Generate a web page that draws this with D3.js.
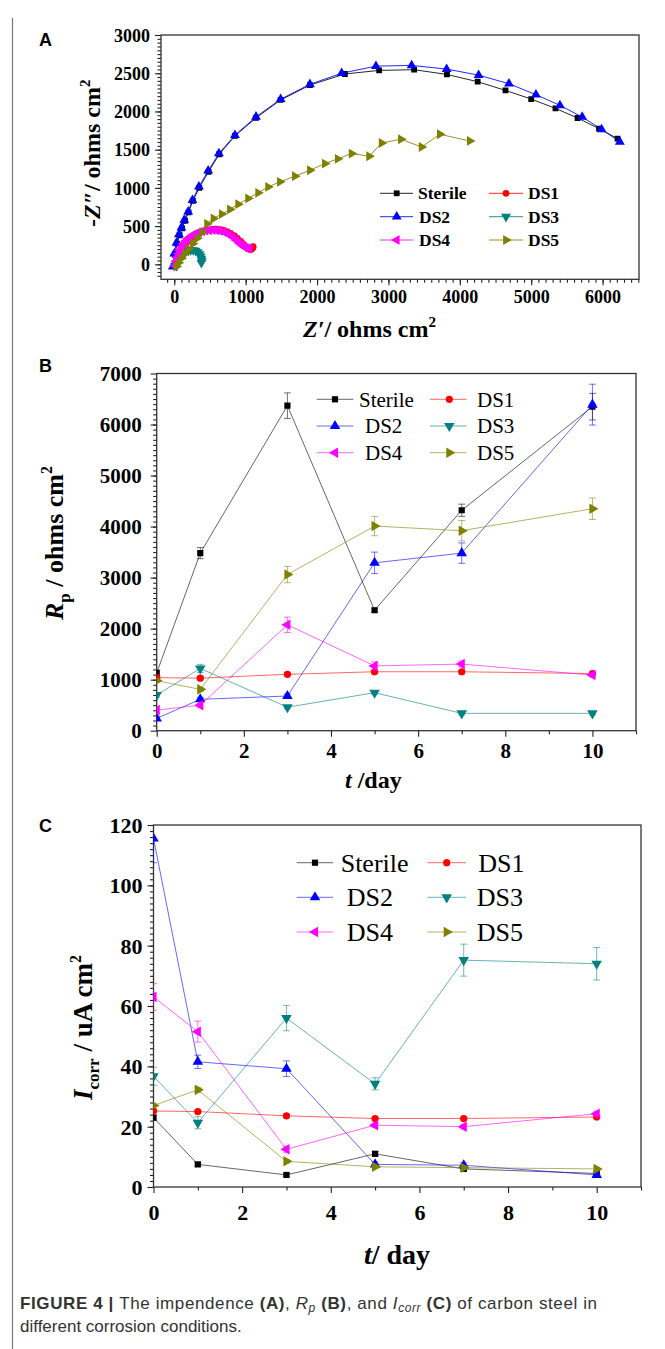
<!DOCTYPE html>
<html>
<head>
<meta charset="utf-8">
<script src="https://cdnjs.cloudflare.com/ajax/libs/d3/7.8.5/d3.min.js"></script>
<style>
  body { margin: 0; background: #fff; }
  svg text { font-family: "Liberation Serif", "Times New Roman", serif; }
</style>
</head>
<body>
<svg id="fig" width="665" height="1349"></svg>
<script>
// ---- series shared by all panels
const seriesNames = ["Sterile", "DS1", "DS2", "DS3", "DS4", "DS5"];
const seriesColors = ["#000000", "#ff0000", "#0000ff", "#008080", "#ff00ff", "#808000"];
const seriesSymbols = ["square", "circle", "up", "down", "left", "right"];

// ---- panel A: Nyquist plots (Z', -Z'')
const zReSterile = [-10, 10, 40, 75, 110, 150, 200, 260, 350, 480, 630, 850, 1145, 1490, 1900, 2390, 2870, 3360, 3820, 4250, 4640, 5000, 5340, 5650, 5950, 6210];
const zImSterile = [-20, 130, 270, 380, 470, 570, 680, 830, 1000, 1210, 1440, 1680, 1915, 2150, 2345, 2490, 2537, 2546, 2484, 2389, 2275, 2162, 2040, 1914, 1775, 1645];
const zReDS1 = [20, 35, 50, 70, 90, 115, 140, 170, 200, 235, 270, 310, 350, 395, 440, 490, 540, 590, 640, 690, 740, 790, 840, 885, 930, 965, 1000, 1030, 1060, 1085, 1100, 1105];
const zImDS1 = [-10, 40, 85, 130, 170, 210, 245, 280, 310, 340, 365, 390, 410, 428, 442, 452, 458, 460, 455, 445, 428, 405, 375, 340, 300, 265, 230, 205, 195, 200, 215, 230];
const zReDS2 = [-20, 0, 30, 65, 100, 140, 195, 255, 345, 475, 625, 850, 1145, 1490, 1900, 2345, 2825, 3325, 3815, 4263, 4688, 5066, 5402, 5714, 5986, 6242];
const zImDS2 = [-30, 140, 280, 390, 480, 580, 690, 840, 1015, 1225, 1450, 1690, 1930, 2160, 2355, 2500, 2593, 2602, 2554, 2475, 2363, 2219, 2080, 1927, 1766, 1601];
const zReDS3 = [30, 50, 75, 100, 130, 160, 195, 230, 265, 300, 330, 355, 370, 380, 385, 380];
const zImDS3 = [-20, 30, 75, 110, 140, 162, 178, 186, 186, 178, 160, 135, 105, 75, 45, 20];
const zReDS4 = [10, 25, 40, 60, 80, 105, 130, 160, 190, 225, 260, 300, 345, 390, 435, 485, 535, 585, 635, 685, 735, 780, 825, 870, 910, 950, 985, 1015, 1040, 1055];
const zImDS4 = [-20, 40, 90, 140, 185, 230, 270, 305, 335, 362, 385, 405, 420, 432, 440, 446, 448, 445, 438, 425, 405, 380, 350, 315, 280, 250, 225, 210, 205, 210];
const zReDS5 = [30, 60, 100, 150, 200, 260, 320, 390, 460, 550, 665, 780, 895, 1035, 1175, 1315, 1480, 1690, 1900, 2110, 2290, 2485, 2730, 2905, 3175, 3465, 3720, 4140];
const zImDS5 = [-30, 20, 80, 140, 200, 270, 340, 420, 530, 600, 657, 718, 787, 862, 935, 1013, 1079, 1153, 1231, 1318, 1380, 1449, 1414, 1587, 1636, 1535, 1701, 1614];

// ---- panels B and C: values against time
const days = [0, 1, 3, 5, 7, 10];

const rpSterile = [1130, 3480, 6370, 2360, 4320, 6350];
const rpDS1 = [1040, 1030, 1105, 1155, 1155, 1120];
const rpDS2 = [240, 615, 680, 3290, 3480, 6390];
const rpDS3 = [700, 1220, 460, 745, 340, 340];
const rpDS4 = [405, 500, 2075, 1270, 1305, 1090];
const rpDS5 = [980, 810, 3060, 4010, 3920, 4350];
const rpErrSterile = [60, 110, 250, 40, 120, 260];
const rpErrDS1 = [30, 30, 30, 30, 30, 30];
const rpErrDS2 = [40, 40, 40, 210, 200, 400];
const rpErrDS3 = [40, 80, 30, 30, 30, 30];
const rpErrDS4 = [50, 40, 150, 80, 60, 40];
const rpErrDS5 = [40, 40, 160, 190, 200, 210];

const icSterile = [23, 7.5, 4, 11, 6, 4.5];
const icDS1 = [25.2, 25.0, 23.6, 22.7, 22.7, 23.2];
const icDS2 = [115.5, 41.5, 39.2, 7.5, 7.2, 4.0];
const icDS3 = [36.7, 21.3, 56, 34.2, 75.2, 74];
const icDS4 = [63, 51.5, 12.5, 20.5, 20, 24.3];
const icDS5 = [27, 32.2, 8.5, 6.7, 6.4, 6.0];
const icErrSterile = [0.8, 0.6, 0.5, 0.8, 0.5, 0.5];
const icErrDS1 = [0.5, 0.5, 0.5, 0.5, 0.5, 0.5];
const icErrDS2 = [8, 2.2, 2.6, 0.8, 0.8, 0.5];
const icErrDS3 = [3, 2, 4.2, 2, 5.3, 5.4];
const icErrDS4 = [4.4, 3.5, 1, 0.8, 0.8, 0.8];
const icErrDS5 = [0.8, 0.8, 0.6, 0.5, 0.5, 0.5];

const svg = d3.select("#fig");
const SANS = '"Liberation Sans", Arial, sans-serif';

// frame round the figure
svg.append("line").attr("x1", 12.5).attr("x2", 12.5).attr("y1", 18).attr("y2", 1349)
  .attr("stroke", "#777").attr("stroke-width", 1.2);

function marker(kind, area) {
  const type = kind === "square" ? d3.symbolSquare : kind === "circle" ? d3.symbolCircle : d3.symbolTriangle;
  return d3.symbol(type, area)();
}
const markerRotation = { square: 0, circle: 0, up: 0, down: 180, left: -90, right: 90 };

function drawPanel(p) {
  const g = svg.append("g");
  const x = d3.scaleLinear().domain(p.xDomain).range([p.left, p.right]);
  const y = d3.scaleLinear().domain(p.yDomain).range([p.bottom, p.top]);
  const clipId = "clip" + p.label;
  g.append("clipPath").attr("id", clipId).append("rect")
    .attr("x", p.left).attr("y", p.top).attr("width", p.right - p.left).attr("height", p.bottom - p.top);

  // minor ticks
  g.append("g").attr("transform", `translate(0,${p.bottom})`)
    .call(d3.axisBottom(x).tickValues(p.xMinor).tickSize(p.minorLen).tickFormat(""))
    .call(a => a.select(".domain").remove());
  g.append("g").attr("transform", `translate(${p.left},0)`)
    .call(d3.axisLeft(y).tickValues(p.yMinor).tickSize(p.minorLen).tickFormat(""))
    .call(a => a.select(".domain").remove());

  // major ticks with labels
  const xa = g.append("g").attr("transform", `translate(0,${p.bottom})`)
    .call(d3.axisBottom(x).tickValues(p.xTicks).tickSize(p.majorLen).tickFormat(d3.format("d")));
  xa.select(".domain").remove();
  xa.selectAll("text").attr("dy", null).attr("y", p.xLabelOffset)
    .style("font-size", p.tickFont + "px").style("font-weight", "bold").attr("fill", "#000");
  const ya = g.append("g").attr("transform", `translate(${p.left},0)`)
    .call(d3.axisLeft(y).tickValues(p.yTicks).tickSize(p.majorLen).tickPadding(p.yPad).tickFormat(d3.format("d")));
  ya.select(".domain").remove();
  ya.selectAll("text").attr("dy", "0.34em")
    .style("font-size", p.tickFont + "px").style("font-weight", "bold").attr("fill", "#000");
  g.selectAll(".tick line").attr("stroke", "#222").attr("stroke-width", 1.1);

  // frame
  g.append("rect").attr("x", p.left).attr("y", p.top)
    .attr("width", p.right - p.left).attr("height", p.bottom - p.top)
    .attr("fill", "none").attr("stroke", "#333").attr("stroke-width", 1.3);

  // data
  const plot = g.append("g").attr("clip-path", `url(#${clipId})`);
  p.series.forEach((s, i) => {
    const col = seriesColors[i];
    const pts = s.xs.map((v, k) => [v, s.ys[k], s.err ? s.err[k] : 0]);
    plot.append("path").datum(pts)
      .attr("d", d3.line().x(d => x(d[0])).y(d => y(d[1])))
      .attr("fill", "none").attr("stroke", col).attr("stroke-width", p.lineWidth).attr("stroke-opacity", p.lineOpacity);
    if (s.err) {
      const eb = plot.append("g").attr("stroke", col).attr("stroke-opacity", 0.55).attr("stroke-width", 1);
      pts.forEach(d => {
        const cx = x(d[0]), y1 = y(d[1] - d[2]), y2 = y(d[1] + d[2]);
        eb.append("line").attr("x1", cx).attr("x2", cx).attr("y1", y1).attr("y2", y2);
        eb.append("line").attr("x1", cx - 3.5).attr("x2", cx + 3.5).attr("y1", y1).attr("y2", y1);
        eb.append("line").attr("x1", cx - 3.5).attr("x2", cx + 3.5).attr("y1", y2).attr("y2", y2);
      });
    }
    const kind = seriesSymbols[i];
    const area = kind === "square" ? p.markerArea * 0.8 : kind === "circle" ? p.markerArea * 0.85 : p.markerArea;
    plot.append("g").selectAll("path").data(pts).join("path")
      .attr("d", marker(kind, area))
      .attr("transform", d => `translate(${x(d[0])},${y(d[1])}) rotate(${markerRotation[kind]})`)
      .attr("fill", col);
  });

  // legend
  const lg = g.append("g");
  seriesNames.forEach((name, i) => {
    const col = i % 2, row = Math.floor(i / 2);
    const L = p.legend;
    const cy = L.rows[row];
    lg.append("line").attr("x1", L.lineX[col][0]).attr("x2", L.lineX[col][1]).attr("y1", cy).attr("y2", cy)
      .attr("stroke", seriesColors[i]).attr("stroke-width", p.lineWidth).attr("stroke-opacity", p.lineOpacity);
    const kind = seriesSymbols[i];
    const area = kind === "square" ? p.markerArea * 0.8 : kind === "circle" ? p.markerArea * 0.85 : p.markerArea;
    lg.append("path").attr("d", marker(kind, area))
      .attr("transform", `translate(${L.symX[col]},${cy}) rotate(${markerRotation[kind]})`)
      .attr("fill", seriesColors[i]);
    lg.append("text").attr("x", L.textX[i]).attr("y", cy).attr("dy", "0.35em")
      .style("font-size", L.font + "px").style("font-weight", L.bold ? "bold" : "normal")
      .text(name);
  });

  // panel letter
  svg.append("text").attr("x", 39).attr("y", p.letterY).text(p.label)
    .style("font-family", SANS).style("font-weight", "bold").style("font-size", "18px");
  return { x, y };
}

function seriesList(xsList, ysList, errList) {
  return xsList.map((xs, i) => ({ xs, ys: ysList[i], err: errList ? errList[i] : null }));
}

// ---- Panel A
drawPanel({
  label: "A", letterY: 46,
  left: 161, right: 639, top: 35, bottom: 279.3,
  xDomain: [-186, 6510], yDomain: [-196, 3000],
  xTicks: d3.range(0, 7000, 1000), xMinor: d3.range(-100, 6501, 100),
  yTicks: d3.range(0, 3001, 500), yMinor: d3.range(-150, 3000, 50),
  majorLen: 6, minorLen: 3.5, tickFont: 18, xLabelOffset: 24, yPad: 5,
  lineWidth: 1, lineOpacity: 0.85, markerArea: 42,
  series: seriesList(
    [zReSterile, zReDS1, zReDS2, zReDS3, zReDS4, zReDS5],
    [zImSterile, zImDS1, zImDS2, zImDS3, zImDS4, zImDS5]),
  legend: { rows: [193.3, 216.7, 240], lineX: [[380, 413], [489, 523]], symX: [396.7, 506],
            textX: [418, 528, 419, 528, 419, 528], font: 17.5, bold: true }
});
svg.append("text").attr("x", 303).attr("y", 337).style("font-size", "24px").style("font-weight", "bold")
  .call(t => {
    t.append("tspan").style("font-style", "italic").text("Z\u2032");
    t.append("tspan").text("/ ohms cm");
    t.append("tspan").attr("dy", -10).style("font-size", "15px").text("2");
  });
svg.append("text").attr("transform", "translate(100,227) rotate(-90)").style("font-size", "24px").style("font-weight", "bold")
  .call(t => {
    t.append("tspan").text("-");
    t.append("tspan").style("font-style", "italic").text("Z\u2033");
    t.append("tspan").text("/ ohms cm");
    t.append("tspan").attr("dy", -10).style("font-size", "15px").text("2");
  });

// ---- Panel B
drawPanel({
  label: "B", letterY: 372,
  left: 156.7, right: 636, top: 373.5, bottom: 730.7,
  xDomain: [0, 11], yDomain: [0, 7000],
  xTicks: d3.range(0, 11, 2), xMinor: d3.range(1, 12, 2),
  yTicks: d3.range(0, 7001, 1000), yMinor: d3.range(100, 7000, 100),
  majorLen: 6, minorLen: 3.5, tickFont: 21, xLabelOffset: 27, yPad: 9,
  lineWidth: 1, lineOpacity: 0.6, markerArea: 48,
  series: seriesList(
    [days, days, days, days, days, days],
    [rpSterile, rpDS1, rpDS2, rpDS3, rpDS4, rpDS5],
    [rpErrSterile, rpErrDS1, rpErrDS2, rpErrDS3, rpErrDS4, rpErrDS5]),
  legend: { rows: [399.3, 426, 452.7], lineX: [[316.7, 353.3], [430, 466.7]], symX: [335, 449.3],
            textX: [359, 477, 365, 477, 365, 477], font: 21, bold: false }
});
svg.append("text").attr("x", 345).attr("y", 788).style("font-size", "24px").style("font-weight", "bold")
  .call(t => {
    t.append("tspan").style("font-style", "italic").text("t");
    t.append("tspan").text(" /day");
  });
svg.append("text").attr("transform", "translate(63,620) rotate(-90)").style("font-size", "26px").style("font-weight", "bold")
  .call(t => {
    t.append("tspan").style("font-style", "italic").text("R");
    t.append("tspan").attr("dy", 7).style("font-size", "17px").text("p");
    t.append("tspan").attr("dy", -7).text(" / ohms cm");
    t.append("tspan").attr("dy", -11).style("font-size", "16px").text("2");
  });

// ---- Panel C
drawPanel({
  label: "C", letterY: 832,
  left: 153.5, right: 641, top: 825, bottom: 1187,
  xDomain: [0, 11], yDomain: [0, 120],
  xTicks: d3.range(0, 11, 2), xMinor: d3.range(1, 12, 2),
  yTicks: d3.range(0, 121, 20), yMinor: d3.range(2, 120, 2),
  majorLen: 6, minorLen: 3.5, tickFont: 22, xLabelOffset: 33, yPad: 5,
  lineWidth: 1, lineOpacity: 0.6, markerArea: 48,
  series: seriesList(
    [days, days, days, days, days, days],
    [icSterile, icDS1, icDS2, icDS3, icDS4, icDS5],
    [icErrSterile, icErrDS1, icErrDS2, icErrDS3, icErrDS4, icErrDS5]),
  legend: { rows: [862.7, 897.3, 932], lineX: [[296.7, 333], [427.3, 466]], symX: [315, 446.7],
            textX: [340.7, 478.3, 346.7, 476.7, 346.7, 476.7], font: 26, bold: false }
});
svg.append("text").attr("x", 397).attr("y", 1264).attr("text-anchor", "middle").style("font-size", "28px").style("font-weight", "bold")
  .call(t => {
    t.append("tspan").style("font-style", "italic").text("t");
    t.append("tspan").text("/ day");
  });
svg.append("text").attr("transform", "translate(92,1100) rotate(-90)").style("font-size", "27px").style("font-weight", "bold")
  .call(t => {
    t.append("tspan").style("font-style", "italic").text("I");
    t.append("tspan").attr("dy", 7).style("font-size", "17px").text("corr");
    t.append("tspan").attr("dy", -7).text(" / uA cm");
    t.append("tspan").attr("dy", -11).style("font-size", "16px").text("2");
  });

// ---- caption
const cap = svg.append("g").style("font-family", SANS).style("font-size", "17px").attr("fill", "#333");
cap.append("text").attr("x", 20).attr("y", 1309).style("font-family", SANS)
  .attr("textLength", 577).attr("lengthAdjust", "spacing")
  .call(t => {
    t.append("tspan").style("font-weight", "bold").text("FIGURE 4 | ");
    t.append("tspan").text("The impendence ");
    t.append("tspan").style("font-weight", "bold").text("(A)");
    t.append("tspan").text(", ");
    t.append("tspan").style("font-style", "italic").text("R");
    t.append("tspan").style("font-style", "italic").attr("dy", 3).style("font-size", "12px").text("p");
    t.append("tspan").attr("dy", -3).text(" ");
    t.append("tspan").style("font-weight", "bold").text("(B)");
    t.append("tspan").text(", and ");
    t.append("tspan").style("font-style", "italic").text("I");
    t.append("tspan").style("font-style", "italic").attr("dy", 3).style("font-size", "12px").text("corr");
    t.append("tspan").attr("dy", -3).text(" ");
    t.append("tspan").style("font-weight", "bold").text("(C)");
    t.append("tspan").text(" of carbon steel in");
  });
cap.append("text").attr("x", 20).attr("y", 1332).style("font-family", SANS).text("different corrosion conditions.");
</script>
</body>
</html>
